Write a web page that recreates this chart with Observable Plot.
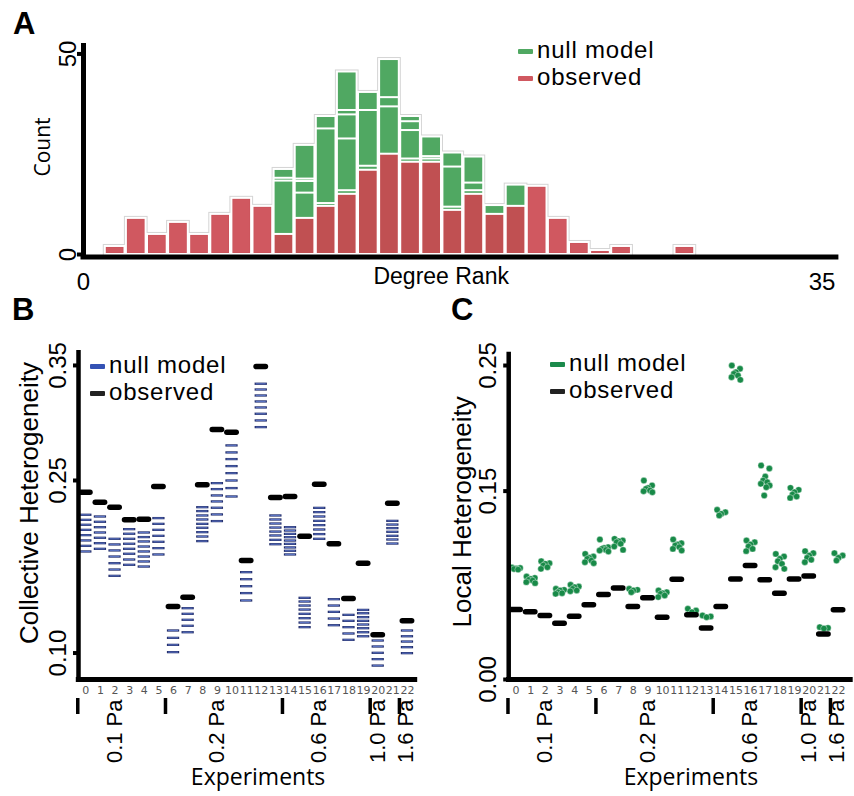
<!DOCTYPE html>
<html><head><meta charset="utf-8">
<script src="https://cdn.jsdelivr.net/npm/d3@7"></script>
<script src="https://cdn.jsdelivr.net/npm/@observablehq/plot@0.6"></script>
<style>
body{margin:0;background:#fff;}
#fig{position:relative;width:854px;height:796px;overflow:hidden;font-family:"Liberation Sans",Arial,sans-serif;color:#000;}
.panel{position:absolute;}
.letter{position:absolute;font-weight:bold;font-size:31px;line-height:22px;}
.legend{position:absolute;font-size:24px;letter-spacing:0.8px;}
.legend .row{position:relative;height:27px;line-height:27px;padding-left:19px;white-space:nowrap;}
.legend .sw{position:absolute;left:0;top:13.3px;width:15px;height:5px;border-radius:1px;}
</style></head>
<body>
<div id="fig">
  <div class="panel" id="pA" style="left:0;top:0"></div>
  <div class="panel" id="pB" style="left:0;top:300px"></div>
  <div class="panel" id="pC" style="left:430px;top:300px"></div>
  <div class="letter" style="left:13px;top:12.5px">A</div>
  <div class="letter" style="left:12px;top:299px">B</div>
  <div class="letter" style="left:451px;top:299px">C</div>
  <div class="legend" style="left:518px;top:35.5px">
    <div class="row"><span class="sw" style="background:#50a862"></span>null model</div>
    <div class="row"><span class="sw" style="background:#d05860"></span>observed</div>
  </div>
  <div class="legend" style="left:90px;top:351px">
    <div class="row"><span class="sw" style="background:#3452b4"></span>null model</div>
    <div class="row"><span class="sw" style="background:#222"></span>observed</div>
  </div>
  <div class="legend" style="left:550px;top:349px">
    <div class="row"><span class="sw" style="background:#1b8a4b"></span>null model</div>
    <div class="row"><span class="sw" style="background:#222"></span>observed</div>
  </div>
</div>
<script>
// ---------- Panel A data: degree-rank histogram ----------
const rankBins = [1,2,3,4,5,6,7,8,9,10,11,12,13,14,15,16,17,18,19,20,21,22,23,24,25,26,27,28,29,30,31];
const observedCounts = [2,9,5,8,5,10,14,12,5,9,12,15,21,25,23,23,11,15,10,12,17,9,3,1,2,0,0,2,0,0,0];
const nullRun1 = [0,0,0,0,0,0,0,0,21.2,27.2,34.4,45.5,40.4,48.6,34.4,29.3,25.3,24.3,12.2,17.3,0,0,0,0,0,0,0,0,0,0,0];
const nullRun2 = [0,0,0,0,0,0,0,0,19.0,18.8,31.3,35.9,35.9,39.1,33.1,24.4,21.8,17.8,0,0,0,0,0,0,0,0,0,0,0,0,0];
const nullRun3 = [0,0,0,0,0,0,0,0,18.3,18.2,12.7,34.8,22.0,36.8,30.9,23.8,11.8,15.9,0,0,0,0,0,0,0,0,0,0,0,0,0];
const nullRun4 = [0,0,0,0,0,0,0,0,0,15.3,0,28.8,0,0,23.8,0,0,0,0,0,0,0,0,0,0,0,0,0,0,0,0];
const nullRun5 = [0,0,0,0,0,0,0,0,0,0,0,15.9,0,0,0,0,0,0,0,0,0,0,0,0,0,0,0,0,0,0,0];
const yTicksA = [0, 50];
const xTicksA = [0, 35];

// ---------- Panels B & C data ----------
const experiments = [0,1,2,3,4,5,6,7,8,9,10,11,12,13,14,15,16,17,18,19,20,21,22];
const pressures = ["0.1 Pa","0.2 Pa","0.6 Pa","1.0 Pa","1.6 Pa"];
const groupFirst = [0,6,14,20,22];
const groupLast = [5,13,19,21,22];

const observedCollective = [0.2398,0.2311,0.2268,0.2158,0.2163,0.2448,0.1404,0.1485,0.2463,0.2943,0.2920,0.1804,0.3490,0.2352,0.2361,0.2016,0.2468,0.1950,0.1474,0.1780,0.1158,0.2303,0.1280];
const nullCollective = [
  [0.2202,0.2158,0.2115,0.2071,0.2025,0.1979,0.1932,0.1883],
  [0.2187,0.2141,0.2094,0.2048,0.2002,0.1955,0.1906],
  [0.1993,0.1944,0.1892,0.1839,0.1781,0.1726,0.1671],
  [0.2077,0.2037,0.1993,0.1950,0.1906,0.1863,0.1813,0.1767],
  [0.2048,0.2008,0.1970,0.1926,0.1883,0.1839,0.1796,0.1752],
  [0.2173,0.2123,0.2071,0.2019,0.1967,0.1912,0.1857],
  [0.1196,0.1132,0.1071,0.1008],
  [0.1390,0.1341,0.1289,0.1237,0.1181],
  [0.2268,0.2234,0.2196,0.2161,0.2123,0.2089,0.2051,0.2013,0.1973],
  [0.2477,0.2425,0.2370,0.2318,0.2263,0.2205,0.2147],
  [0.2805,0.2744,0.2686,0.2625,0.2564,0.2500,0.2434,0.2361],
  [0.1703,0.1642,0.1581,0.1521,0.1457],
  [0.3341,0.3291,0.3239,0.3187,0.3135,0.3080,0.3022,0.2964],
  [0.2196,0.2161,0.2126,0.2091,0.2056,0.2022,0.1984,0.1946],
  [0.2094,0.2065,0.2036,0.2007,0.1978,0.1949,0.1918,0.1889,0.1857],
  [0.1480,0.1448,0.1413,0.1378,0.1341,0.1303,0.1265,0.1225],
  [0.2262,0.2225,0.2187,0.2149,0.2112,0.2074,0.2034,0.1993],
  [0.1468,0.1413,0.1358,0.1300,0.1242],
  [0.1332,0.1280,0.1225,0.1170,0.1115],
  [0.1375,0.1346,0.1312,0.1280,0.1248,0.1216,0.1181,0.1146],
  [0.1109,0.1057,0.1002,0.0947,0.0891],
  [0.2149,0.2117,0.2086,0.2054,0.2019,0.1987,0.1952],
  [0.1196,0.1146,0.1100,0.1051,0.0999]
];
const yTicksB = [0.10, 0.25, 0.35];

const observedLocal = [0.0558,0.0540,0.0510,0.0448,0.0503,0.0595,0.0677,0.0728,0.0581,0.0650,0.0495,0.0799,0.0516,0.0410,0.0581,0.0801,0.0908,0.0794,0.0687,0.0801,0.0825,0.0362,0.0555];
const nullLocal = [
  [0.0893,0.0888,0.0884,0.0880,0.0875],
  [0.0820,0.0809,0.0801,0.0793,0.0788,0.0775,0.0767],
  [0.0942,0.0926,0.0921,0.0908,0.0894,0.0881],
  [0.0722,0.0714,0.0709,0.0695,0.0687,0.0682],
  [0.0754,0.0740,0.0735,0.0722,0.0709,0.0703],
  [0.1000,0.0979,0.0969,0.0961,0.0947,0.0934,0.0926],
  [0.1115,0.1054,0.1048,0.1040,0.1032,0.1027,0.1019],
  [0.1120,0.1107,0.1101,0.1093,0.1080,0.1059,0.1032],
  [0.0722,0.0714,0.0709,0.0695],
  [0.1584,0.1545,0.1526,0.1518,0.1505,0.1499,0.1491],
  [0.0709,0.0695,0.0687,0.0682,0.0669,0.0656],
  [0.1115,0.1085,0.1075,0.1067,0.1054,0.1040,0.1027],
  [0.0563,0.0549,0.0536],
  [0.0510,0.0502,0.0496],
  [0.1351,0.1332,0.1319,0.1306],
  [0.2500,0.2474,0.2447,0.2434,0.2420,0.2407,0.2386],
  [0.1107,0.1093,0.1075,0.1059,0.1040,0.1022],
  [0.1704,0.1680,0.1616,0.1584,0.1571,0.1558,0.1545,0.1531,0.1465],
  [0.1000,0.0979,0.0961,0.0942,0.0921,0.0894,0.0881],
  [0.1526,0.1510,0.1491,0.1473,0.1457,0.1446],
  [0.1022,0.1006,0.0987,0.0969,0.0953,0.0934],
  [0.0417,0.0411,0.0406],
  [0.1006,0.0987,0.0969,0.0947]
];
const yTicksC = [0.00, 0.15, 0.25];

// ---------- styling constants ----------
const GREEN_A = "#50a862", RED_A = "rgb(203,71,80)";
const SANS = "Liberation Sans, Arial, sans-serif";
const HUMAN = "Open Sans, Lato, sans-serif";
// horizontal spread of dots within one experiment's cluster (presentation only)
const dotSpread = [-0.28, 0.28, 0, -0.14, 0.14, -0.3, 0.3, 0.07, -0.07];

// ---------- Panel A ----------
const binRows = (vals) => rankBins.map((b, i) => ({bin: b, count: vals[i]})).filter(d => d.count > 0);
const nullRuns = [nullRun1, nullRun2, nullRun3, nullRun4, nullRun5];
const envelope = rankBins.map((b, i) => ({bin: b, count: Math.max(observedCounts[i], nullRun1[i])})).filter(d => d.count > 0);
const barOpts = {x1: "bin", x2: d => d.bin + 1, y1: 0, y2: "count", insetLeft: 0.7, insetRight: 0.7};

const plotA = Plot.plot({
  width: 854, height: 300,
  marginLeft: 83, marginRight: 15.6, marginTop: 43, marginBottom: 46,
  x: {domain: [0, 35.8]},
  y: {domain: [0, 52.6]},
  style: {background: "transparent", fontFamily: SANS, overflow: "visible"},
  marks: [
    Plot.rect(envelope, {...barOpts, fill: "none", stroke: "#d4d4d4", strokeWidth: 4}),
    ...nullRuns.map(run => Plot.rect(binRows(run), {...barOpts, fill: GREEN_A, stroke: "white", strokeWidth: 2})),
    Plot.rect(binRows(observedCounts), {...barOpts, fill: RED_A, fillOpacity: 0.91, stroke: "white", strokeWidth: 2}),
    Plot.ruleX([0], {strokeWidth: 5, insetBottom: -4.5}),
    Plot.ruleY([0], {strokeWidth: 5, dy: 2.5, insetLeft: -2.5}),
    Plot.axisY(yTicksA, {tickSize: 6, strokeWidth: 4, tickFormat: () => "", label: null}),
    Plot.text(yTicksA, {y: d => d, text: d => String(d), frameAnchor: "left", rotate: -90, textAnchor: "middle", lineAnchor: "bottom", dx: -8, fontSize: 24}),
    Plot.axisX(xTicksA, {tickSize: 0, tickPadding: 18, fontSize: 24, label: null}),
    Plot.text(["Count"], {text: d => d, frameAnchor: "left", rotate: -90, textAnchor: "middle", dx: -40, dy: -2, fontSize: 21, fontFamily: HUMAN}),
    Plot.text(["Degree Rank"], {text: d => d, frameAnchor: "bottom", dx: -20, dy: 29.5, fontSize: 23, fontFamily: SANS})
  ]
});
document.getElementById("pA").append(plotA);

// ---------- shared builder for B and C ----------
function groupRows(xEnd) {
  const marks = groupFirst.map(f => f - 0.55);
  return pressures.map((p, i) => ({
    name: p,
    marker: marks[i],
    center: (marks[i] + (i + 1 < marks.length ? marks[i + 1] : xEnd)) / 2
  }));
}

function heteroPanel({observed, nullVals, yDomain, yTicks, yLabel, yLabelDx, yLabelDy, width, marginLeft, marginRight, marginTop, xDomain, xEnd, nullMarks}) {
  const frameH = 496 - 117 - marginTop;
  const obsRows = experiments.map((e, i) => ({exp: e, v: observed[i]}));
  const nullRows = experiments.flatMap((e, i) => nullVals[i].map((v, k) => ({exp: e, v, k})));
  const groups = groupRows(xEnd);
  return Plot.plot({
    width, height: 496,
    marginLeft, marginRight, marginTop, marginBottom: 117,
    x: {domain: xDomain},
    y: {domain: yDomain},
    style: {background: "transparent", fontFamily: SANS, overflow: "visible"},
    marks: [
      ...nullMarks(nullRows),
      Plot.ruleY(obsRows, {y: "v", x1: d => d.exp - 0.32, x2: d => d.exp + 0.32, stroke: "black", strokeWidth: 5.5, strokeLinecap: "round"}),
      Plot.ruleX([xDomain[0]], {strokeWidth: 4.5, insetBottom: -2.5}),
      Plot.ruleY([yDomain[0]], {strokeWidth: 5, insetLeft: -2.2}),
      Plot.axisY(yTicks, {tickSize: 5, strokeWidth: 4, tickFormat: () => "", label: null}),
      Plot.text(yTicks, {y: d => d, text: d => d3.format(".2f")(d), frameAnchor: "left", rotate: -90, textAnchor: "middle", lineAnchor: "bottom", dx: -13, fontSize: 24}),
      Plot.axisX(experiments, {tickSize: 0, tickPadding: 7, fontSize: 11, fill: "#555", fontFamily: "DejaVu Sans, sans-serif", label: null}),
      Plot.ruleX(groups, {x: "marker", strokeWidth: 3.5, insetTop: frameH + 19, insetBottom: -35}),
      Plot.text(groups, {x: "center", text: "name", frameAnchor: "bottom", dy: 20, rotate: -90, textAnchor: "end", fontSize: 22}),
      Plot.text(["Experiments"], {text: d => d, frameAnchor: "bottom", dx: 10, dy: 105, fontSize: 23, fontFamily: HUMAN}),
      Plot.text([yLabel], {text: d => d, frameAnchor: "left", rotate: -90, textAnchor: "middle", dx: yLabelDx, dy: yLabelDy, fontSize: 26})
    ]
  });
}

// ---------- Panel B ----------
const plotB = heteroPanel({
  observed: observedCollective, nullVals: nullCollective,
  yDomain: [0.077, 0.363], yTicks: yTicksB,
  yLabel: "Collective Heterogeneity", yLabelDx: -49, yLabelDy: -12,
  width: 430, marginLeft: 78, marginRight: 12.8, marginTop: 50,
  xDomain: [-0.5, 22.7], xEnd: 23.3,
  nullMarks: rows => [
    Plot.ruleY(rows, {y: "v", x1: d => d.exp - 0.42, x2: d => d.exp + 0.42, stroke: "#27326e", strokeWidth: 2.3}),
    Plot.ruleY(rows, {y: "v", x1: d => d.exp - 0.34, x2: d => d.exp + 0.34, stroke: "#6a86dc", strokeWidth: 0.8})
  ]
});
document.getElementById("pB").append(plotB);

// ---------- Panel C ----------
const plotC = heteroPanel({
  observed: observedLocal, nullVals: nullLocal,
  yDomain: [0, 0.2606], yTicks: yTicksC,
  yLabel: "Local Heterogeneity", yLabelDx: -46, yLabelDy: -4,
  width: 424, marginLeft: 78.2, marginRight: 1.3, marginTop: 51.7,
  xDomain: [-0.5, 23.0], xEnd: 23.3,
  nullMarks: rows => [
    Plot.dot(rows, {x: d => d.exp + dotSpread[d.k % dotSpread.length], y: "v", r: 3.2, fill: "#188a48", stroke: "white", strokeWidth: 0.4})
  ]
});
document.getElementById("pC").append(plotC);
</script>
</body></html>
